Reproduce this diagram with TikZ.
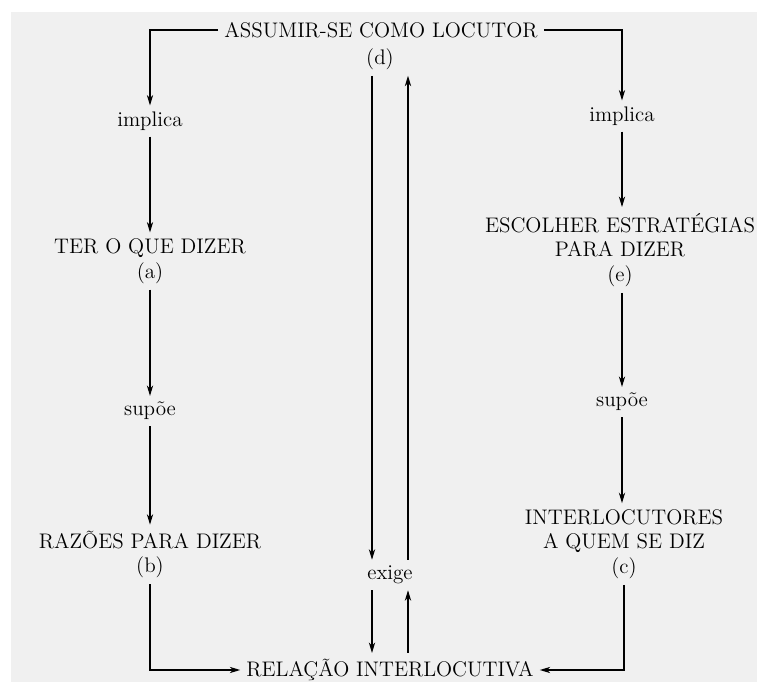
\documentclass[tikz,border=0pt]{standalone}
\usepackage{fontspec}
\usepackage{xcolor}
\usepackage{tikz}
\usetikzlibrary{calc,positioning,arrows.meta}

\begin{document}
\begin{tikzpicture}[>={Stealth[length=6pt,width=3.6pt]}, txt/.style={font=\large, align=center}, arr/.style={->, semithick}]
		\useasboundingbox (0,0) rectangle (15.14,13.64);
		\fill[black!6] (0.22,0) rectangle (15.14,13.4);
		
		\node[txt] (loc) at (7.62,13.04) {ASSUMIR-SE COMO LOCUTOR};
		\node[txt] (locd) at (7.60,12.46) {(d)};
		
		\node[txt] (impl1) at (3.0,11.22) {implica};
		\node[txt] (ter) at (3.0,8.42) {TER O QUE DIZER\\(a)};
		\node[txt] (supo1) at (3.0,5.42) {supõe};
		\node[txt] (raz) at (3.0,2.55) {RAZÕES PARA DIZER\\(b)};
		
		\node[txt] (impl2) at (12.44,11.32) {implica};
		\node[txt] (esc) at (12.4,8.64) {ESCOLHER ESTRATÉGIAS\\PARA DIZER\\(e)};
		\node[txt] (supo2) at (12.44,5.60) {supõe};
		\node[txt] (inter) at (12.48,2.76) {INTERLOCUTORES\\A QUEM SE DIZ\\(c)};
		
		\node[txt] (exige) at (7.80,2.14) {exige};
		\node[txt] (rel) at (7.80,0.24) {RELAÇÃO INTERLOCUTIVA};
		
		\draw[arr] (loc.west) -| (impl1.north);
		\draw[arr] (loc.east) -| (impl2.north);
		
		\draw[arr] (impl1) -- (ter);
		\draw[arr] (ter) -- (supo1);
		\draw[arr] (supo1) -- (raz);
		\draw[arr] (raz.south) |- (rel.west);
		
		\draw[arr] (impl2.south) -- (impl2.south |- esc.north);
		\draw[arr] (esc.south -| supo2) -- (supo2);
		\draw[arr] (supo2) -- (supo2 |- inter.north);
		\draw[arr] (inter.south) |- (rel.east);
		
		\coordinate (dnA) at ([xshift=-0.36cm]exige.north);
		\coordinate (upA) at ([xshift=0.36cm]exige.north);
		\coordinate (dnB) at ([xshift=-0.36cm]exige.south);
		\coordinate (upB) at ([xshift=0.36cm]exige.south);
		\draw[arr] (dnA |- locd.south) -- (dnA);
		\draw[arr] (upA) -- (upA |- locd.south);
		\draw[arr] (dnB) -- (dnB |- rel.north);
		\draw[arr] (upB |- rel.north) -- (upB);
	\end{tikzpicture}
\end{document}
